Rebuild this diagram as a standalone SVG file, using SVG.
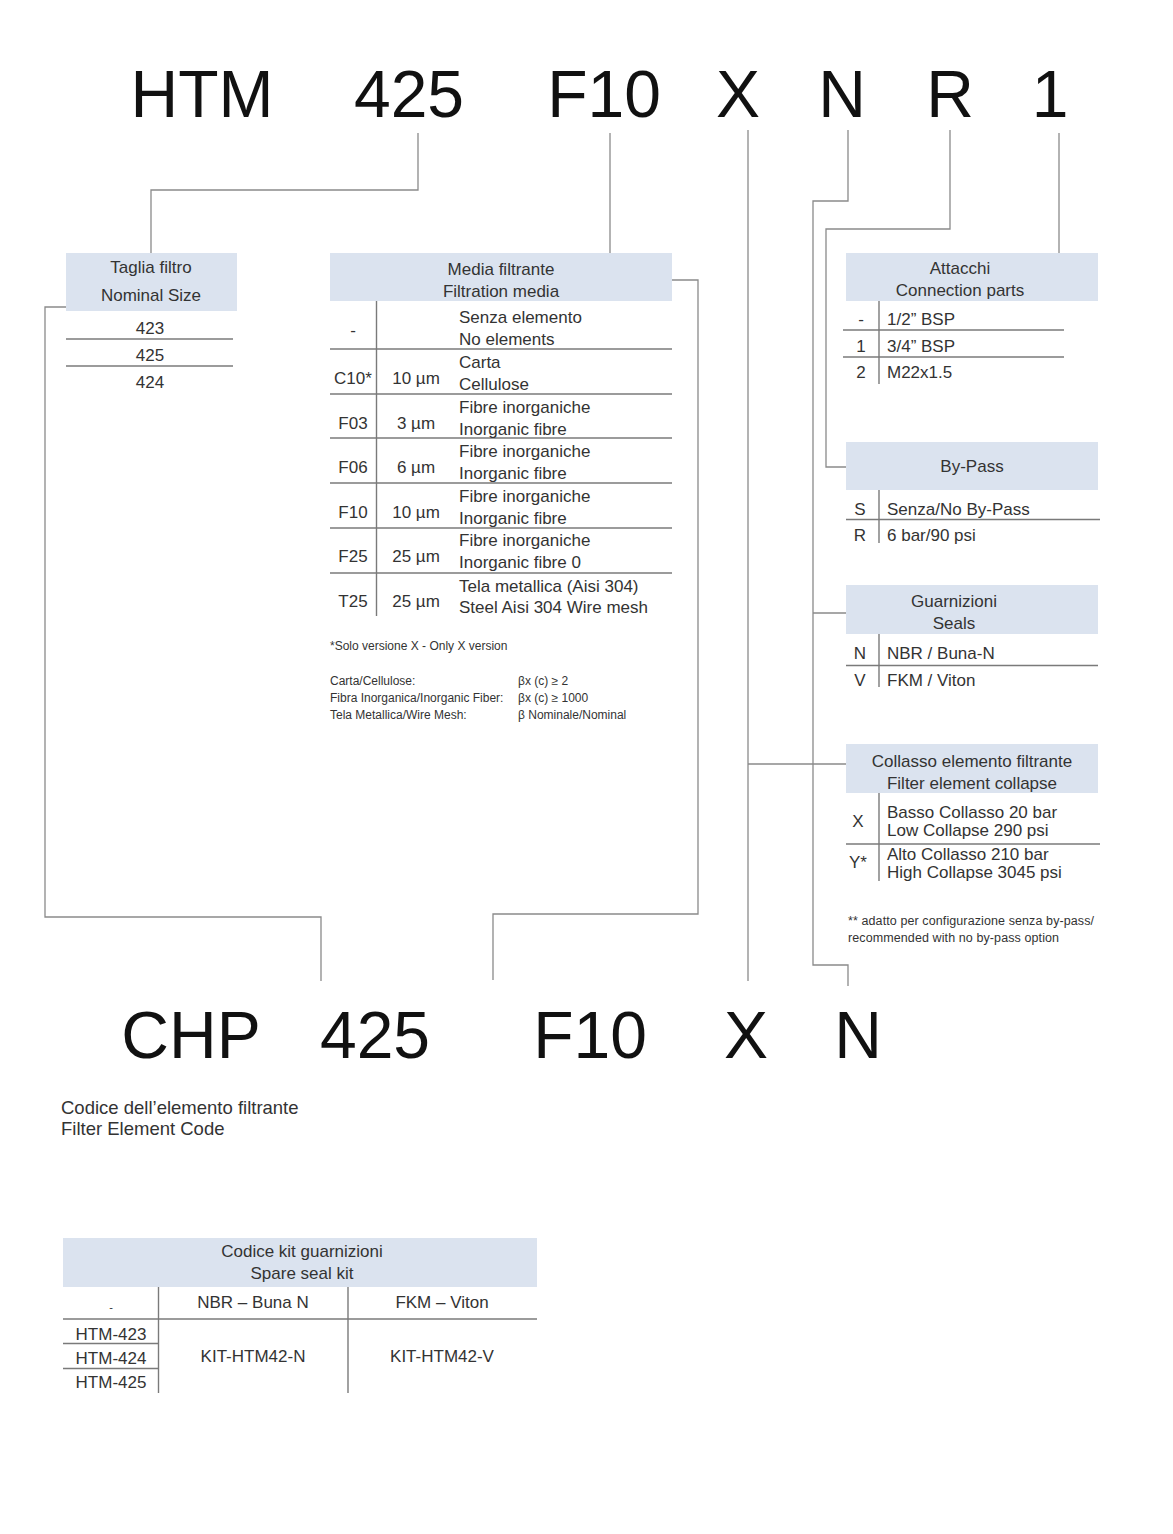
<svg xmlns="http://www.w3.org/2000/svg" width="1173" height="1534" viewBox="0 0 1173 1534">
<style>
  text { font-family: "Liberation Sans", Arial, sans-serif; fill: #333; }
  .big { font-size: 66px; fill: #111; text-anchor: middle; }
  .t { font-size: 17px; }
  .c { text-anchor: middle; }
  .sm { font-size: 12px; letter-spacing: 0px; }
  .sm2 { font-size: 12.5px; letter-spacing: 0.1px; }
  .hdr { fill: #dbe3ef; }
  .conn { fill: none; stroke: #8a8a8a; stroke-width: 1.3; }
  .rule { stroke: #7a7a7a; stroke-width: 1.4; fill: none; }
</style>
<rect width="1173" height="1534" fill="#fff"/>

<g id="code-top">
  <text class="big" x="202" y="117">HTM</text>
  <text class="big" x="409" y="117">425</text>
  <text class="big" x="604" y="117">F10</text>
  <text class="big" x="738" y="117">X</text>
  <text class="big" x="842" y="117">N</text>
  <text class="big" x="950" y="117">R</text>
  <text class="big" x="1050" y="117">1</text>
</g>

<g id="connectors" class="conn">
  <polyline points="418,133 418,190 151,190 151,253"/>
  <polyline points="610,133 610,253"/>
  <polyline points="748,130 748,981"/>
  <polyline points="748,764 846,764"/>
  <polyline points="848,130 848,201 813,201 813,965 848,965 848,986"/>
  <polyline points="813,613 846,613"/>
  <polyline points="950,130 950,229 826,229 826,467 846,467"/>
  <polyline points="1059,133 1059,253"/>
  <polyline points="66,307 45,307 45,917 321,917 321,981"/>
  <polyline points="672,280 698,280 698,914 493,914 493,980"/>
</g>

<g id="nominal-size">
  <rect class="hdr" x="66" y="253" width="171" height="58"/>
  <text class="t c" x="151" y="273">Taglia filtro</text>
  <text class="t c" x="151" y="301">Nominal Size</text>
  <line class="rule" x1="66" y1="339" x2="233" y2="339"/>
  <line class="rule" x1="66" y1="366" x2="233" y2="366"/>
  <text class="t c" x="150" y="334">423</text>
  <text class="t c" x="150" y="361">425</text>
  <text class="t c" x="150" y="388">424</text>
</g>

<g id="filtration-media">
  <rect class="hdr" x="330" y="253" width="342" height="48"/>
  <text class="t c" x="501" y="275">Media filtrante</text>
  <text class="t c" x="501" y="297">Filtration media</text>
  <line class="rule" x1="376.5" y1="301" x2="376.5" y2="616"/>
  <line class="rule" x1="330" y1="349" x2="672" y2="349"/>
  <line class="rule" x1="330" y1="394" x2="672" y2="394"/>
  <line class="rule" x1="330" y1="438" x2="672" y2="438"/>
  <line class="rule" x1="330" y1="483" x2="672" y2="483"/>
  <line class="rule" x1="330" y1="528" x2="672" y2="528"/>
  <line class="rule" x1="330" y1="573" x2="672" y2="573"/>

  <text class="t c" x="353" y="336">-</text>
  <text class="t" x="459" y="323">Senza elemento</text>
  <text class="t" x="459" y="345">No elements</text>

  <text class="t c" x="353" y="384">C10*</text>
  <text class="t c" x="416" y="384">10 µm</text>
  <text class="t" x="459" y="368">Carta</text>
  <text class="t" x="459" y="390">Cellulose</text>

  <text class="t c" x="353" y="429">F03</text>
  <text class="t c" x="416" y="429">3 µm</text>
  <text class="t" x="459" y="413">Fibre inorganiche</text>
  <text class="t" x="459" y="435">Inorganic fibre</text>

  <text class="t c" x="353" y="473">F06</text>
  <text class="t c" x="416" y="473">6 µm</text>
  <text class="t" x="459" y="457">Fibre inorganiche</text>
  <text class="t" x="459" y="479">Inorganic fibre</text>

  <text class="t c" x="353" y="518">F10</text>
  <text class="t c" x="416" y="518">10 µm</text>
  <text class="t" x="459" y="502">Fibre inorganiche</text>
  <text class="t" x="459" y="524">Inorganic fibre</text>

  <text class="t c" x="353" y="562">F25</text>
  <text class="t c" x="416" y="562">25 µm</text>
  <text class="t" x="459" y="546">Fibre inorganiche</text>
  <text class="t" x="459" y="568">Inorganic fibre 0</text>

  <text class="t c" x="353" y="607">T25</text>
  <text class="t c" x="416" y="607">25 µm</text>
  <text class="t" x="459" y="592">Tela metallica (Aisi 304)</text>
  <text class="t" x="459" y="613">Steel Aisi 304 Wire mesh</text>

  <text class="sm" x="330" y="650">*Solo versione X - Only X version</text>
  <text class="sm" x="330" y="685">Carta/Cellulose:</text>
  <text class="sm" x="330" y="702">Fibra Inorganica/Inorganic Fiber:</text>
  <text class="sm" x="330" y="719">Tela Metallica/Wire Mesh:</text>
  <text class="sm" x="518" y="685">βx (c) ≥ 2</text>
  <text class="sm" x="518" y="702">βx (c) ≥ 1000</text>
  <text class="sm" x="518" y="719">β Nominale/Nominal</text>
</g>

<g id="connection-parts">
  <rect class="hdr" x="846" y="253" width="252" height="48"/>
  <text class="t c" x="960" y="274">Attacchi</text>
  <text class="t c" x="960" y="296">Connection parts</text>
  <line class="rule" x1="879" y1="301" x2="879" y2="384"/>
  <line class="rule" x1="843" y1="330" x2="1064" y2="330"/>
  <line class="rule" x1="843" y1="357" x2="1064" y2="357"/>
  <text class="t c" x="861" y="325">-</text>
  <text class="t c" x="861" y="352">1</text>
  <text class="t c" x="861" y="378">2</text>
  <text class="t" x="887" y="325">1/2” BSP</text>
  <text class="t" x="887" y="352">3/4” BSP</text>
  <text class="t" x="887" y="378">M22x1.5</text>
</g>

<g id="by-pass">
  <rect class="hdr" x="846" y="442" width="252" height="48"/>
  <text class="t c" x="972" y="472">By-Pass</text>
  <line class="rule" x1="879" y1="490" x2="879" y2="543"/>
  <line class="rule" x1="846" y1="519.5" x2="1100" y2="519.5"/>
  <text class="t c" x="860" y="515">S</text>
  <text class="t c" x="860" y="541">R</text>
  <text class="t" x="887" y="515">Senza/No By-Pass</text>
  <text class="t" x="887" y="541">6 bar/90 psi</text>
</g>

<g id="seals">
  <rect class="hdr" x="846" y="585" width="252" height="49"/>
  <text class="t c" x="954" y="607">Guarnizioni</text>
  <text class="t c" x="954" y="629">Seals</text>
  <line class="rule" x1="879" y1="634" x2="879" y2="687"/>
  <line class="rule" x1="846" y1="665.5" x2="1098" y2="665.5"/>
  <text class="t c" x="860" y="659">N</text>
  <text class="t c" x="860" y="686">V</text>
  <text class="t" x="887" y="659">NBR / Buna-N</text>
  <text class="t" x="887" y="686">FKM / Viton</text>
</g>

<g id="element-collapse">
  <rect class="hdr" x="846" y="744" width="252" height="49"/>
  <text class="t c" x="972" y="767">Collasso elemento filtrante</text>
  <text class="t c" x="972" y="789">Filter element collapse</text>
  <line class="rule" x1="879" y1="793" x2="879" y2="881"/>
  <line class="rule" x1="846" y1="844" x2="1100" y2="844"/>
  <text class="t c" x="858" y="827">X</text>
  <text class="t c" x="858" y="868">Y*</text>
  <text class="t" x="887" y="818">Basso Collasso 20 bar</text>
  <text class="t" x="887" y="836">Low Collapse 290 psi</text>
  <text class="t" x="887" y="860">Alto Collasso 210 bar</text>
  <text class="t" x="887" y="878">High Collapse 3045 psi</text>
  <text class="sm2" x="848" y="925">** adatto per configurazione senza by-pass/</text>
  <text class="sm2" x="848" y="942">recommended with no by-pass option</text>
</g>

<g id="code-element">
  <text class="big" x="191" y="1058">CHP</text>
  <text class="big" x="375" y="1058">425</text>
  <text class="big" x="590" y="1058">F10</text>
  <text class="big" x="746" y="1058">X</text>
  <text class="big" x="858" y="1058">N</text>
</g>

<g id="element-code-label">
  <text x="61" y="1114" style="font-size:18.5px">Codice dell’elemento filtrante</text>
  <text x="61" y="1135" style="font-size:18.5px">Filter Element Code</text>
</g>

<g id="spare-seal-kit">
  <rect class="hdr" x="63" y="1238" width="474" height="49"/>
  <text class="t c" x="302" y="1257">Codice kit guarnizioni</text>
  <text class="t c" x="302" y="1279">Spare seal kit</text>
  <line class="rule" x1="158.5" y1="1287" x2="158.5" y2="1393"/>
  <line class="rule" x1="348" y1="1287" x2="348" y2="1393"/>
  <line class="rule" x1="63" y1="1319" x2="537" y2="1319"/>
  <line class="rule" x1="63" y1="1343.5" x2="158" y2="1343.5"/>
  <line class="rule" x1="63" y1="1368.5" x2="158" y2="1368.5"/>
  <text class="c" x="111" y="1311" style="font-size:11px">-</text>
  <text class="t c" x="253" y="1308">NBR – Buna N</text>
  <text class="t c" x="442" y="1308">FKM – Viton</text>
  <text class="t c" x="111" y="1340">HTM-423</text>
  <text class="t c" x="111" y="1364">HTM-424</text>
  <text class="t c" x="111" y="1388">HTM-425</text>
  <text class="t c" x="253" y="1362">KIT-HTM42-N</text>
  <text class="t c" x="442" y="1362">KIT-HTM42-V</text>
</g>
</svg>
